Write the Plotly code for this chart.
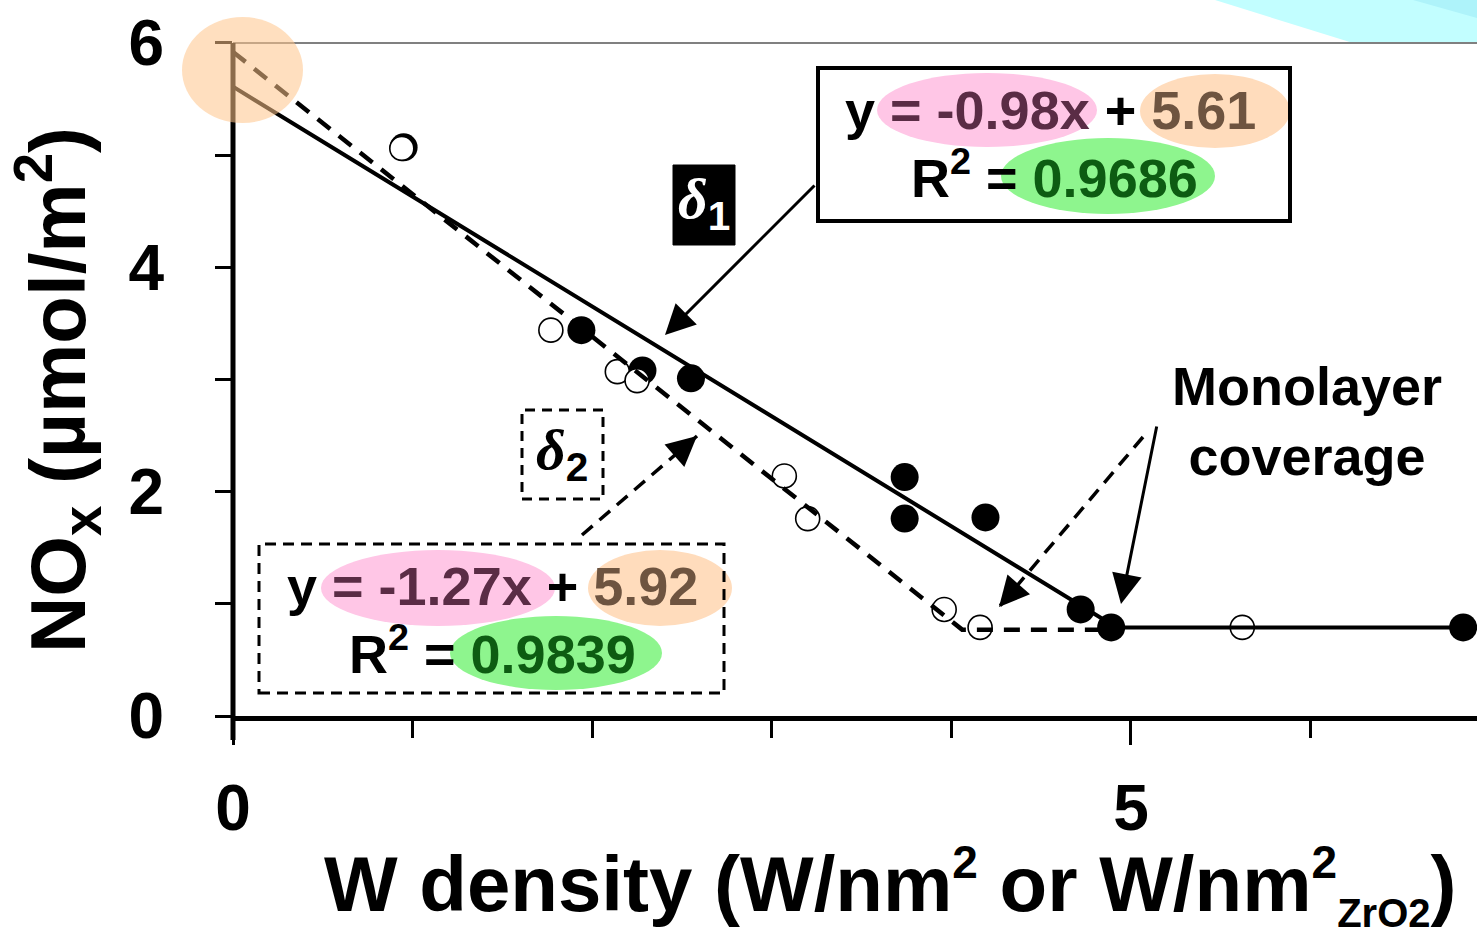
import plotly.graph_objects as go

# ---------------- data ----------------
filled_x = [0.95, 1.94, 2.28, 2.55, 3.74, 3.74, 4.19, 4.72, 4.89, 6.85]
filled_y = [5.07, 3.44, 3.08, 3.01, 2.13, 1.76, 1.77, 0.95, 0.79, 0.79]

open_x = [0.94, 1.77, 2.14, 2.25, 3.07, 3.20, 3.96, 4.16, 5.62]
open_y = [5.06, 3.44, 3.07, 2.99, 2.14, 1.76, 0.95, 0.79, 0.79]

solid_fit_x = [0.0, 4.92, 6.93]
solid_fit_y = [5.61, 0.79, 0.79]
dashed_fit_x = [0.0, 4.06, 4.92]
dashed_fit_y = [5.92, 0.77, 0.77]

y_tickvals = [0, 1, 2, 3, 4, 5, 6]
y_ticktext = ["0", "", "2", "", "4", "", "6"]
x_major = [0, 5]
x_minor = [1, 2, 3, 4, 6]

eq1 = ("-0.98x", "5.61", "0.9686")
eq2 = ("-1.27x", "5.92", "0.9839")

# ---------------- layout geometry ----------------
W, H = 1477, 936
L, R, T, B = 233, 0, 0, 220
PW, PH = W - L - R, H - T - B
X_MAX = 6.927
Y_MAX = 6.383


def px(xp):
    return (xp - L) / PW


def py(yp):
    return (H - B - yp) / PH


FONT = "Liberation Sans, Arial, sans-serif"
SERIF = "Liberation Serif, Times New Roman, serif"
PURPLE = "#5a2c45"
BROWN = "#6e5440"
DGREEN = "#0d5c12"

fig = go.Figure()

fig.add_trace(go.Scatter(x=filled_x, y=filled_y, mode="markers",
                         marker=dict(size=28, color="black"),
                         showlegend=False, cliponaxis=False))
fig.add_trace(go.Scatter(x=open_x, y=open_y, mode="markers",
                         marker=dict(size=24, color="white",
                                     line=dict(color="black", width=1.6)),
                         showlegend=False, cliponaxis=False))
fig.add_trace(go.Scatter(x=solid_fit_x, y=solid_fit_y, mode="lines",
                         line=dict(color="black", width=4),
                         showlegend=False))
fig.add_trace(go.Scatter(x=dashed_fit_x, y=dashed_fit_y, mode="lines",
                         line=dict(color="black", width=4.5, dash="16px,11px"),
                         showlegend=False))

shapes = []
# light cyan decoration top-right
shapes.append(dict(type="path", xref="paper", yref="paper", layer="below",
                   path=f"M{px(1215)},{py(0)} L{px(1353)},{py(43)} L{px(1477)},{py(43)} L{px(1477)},{py(0)} Z",
                   fillcolor="#c2feff", line=dict(width=0)))
shapes.append(dict(type="path", xref="paper", yref="paper", layer="below",
                   path=f"M{px(1413)},{py(0)} L{px(1477)},{py(18)} L{px(1477)},{py(0)} Z",
                   fillcolor="#aef3fa", line=dict(width=0)))
# gray top line at y = 6
shapes.append(dict(type="line", xref="paper", yref="paper",
                   x0=0, x1=1, y0=6 / Y_MAX, y1=6 / Y_MAX,
                   line=dict(color="#808080", width=2)))
# y axis line (0 .. 6)
shapes.append(dict(type="line", xref="paper", yref="paper",
                   x0=px(233), x1=px(233), y0=py(740), y1=6 / Y_MAX,
                   line=dict(color="black", width=5)))


def ell(cx, cy, rx, ry, color):
    return dict(type="circle", xref="paper", yref="paper",
                x0=px(cx - rx), x1=px(cx + rx), y0=py(cy + ry), y1=py(cy - ry),
                fillcolor=color, line=dict(width=0), layer="above")


PINK = "#ffc6e6"
ORANGE = "#ffdcbc"
GREEN = "#8ef58e"
shapes += [
    ell(987, 110, 110, 37, PINK),
    ell(1215, 111, 75, 37, ORANGE),
    ell(1108, 176, 107, 38, GREEN),
    ell(438, 588, 117, 38, PINK),
    ell(660, 588, 72, 38, ORANGE),
    ell(556, 653, 106, 37, GREEN),
]
# equation boxes
shapes.append(dict(type="rect", xref="paper", yref="paper",
                   x0=px(818), x1=px(1290), y0=py(221), y1=py(68),
                   line=dict(color="black", width=4)))
shapes.append(dict(type="rect", xref="paper", yref="paper",
                   x0=px(259), x1=px(724), y0=py(693), y1=py(544),
                   line=dict(color="black", width=3, dash="11px,7px")))
# delta boxes
shapes.append(dict(type="rect", xref="paper", yref="paper",
                   x0=px(673), x1=px(735), y0=py(245), y1=py(165),
                   fillcolor="black", line=dict(color="black", width=1)))
shapes.append(dict(type="rect", xref="paper", yref="paper",
                   x0=px(522), x1=px(603), y0=py(499), y1=py(410),
                   line=dict(color="black", width=3, dash="10px,7px")))
# dashed arrow shafts
shapes.append(dict(type="line", xref="paper", yref="paper",
                   x0=px(582), y0=py(535), x1=px(697), y1=py(436),
                   line=dict(color="black", width=3.5, dash="14px,9px")))
shapes.append(dict(type="line", xref="paper", yref="paper",
                   x0=px(1143), y0=py(437), x1=px(999), y1=py(607),
                   line=dict(color="black", width=3.5, dash="14px,9px")))
# orange highlight at intercept (on top of everything)
shapes.append(dict(type="circle", xref="paper", yref="paper",
                   x0=px(182), x1=px(303), y0=py(123), y1=py(17),
                   fillcolor="#ffc48a", opacity=0.55, line=dict(width=0),
                   layer="above"))

ann = []
EQF = dict(family=FONT, size=54, color="black", weight="bold")
ann.append(dict(xref="paper", yref="paper", x=px(1050), y=py(110),
                xanchor="center", yanchor="middle", showarrow=False, font=EQF,
                text=f'y <span style="color:{PURPLE}">= {eq1[0]}</span> + <span style="color:{BROWN}">{eq1[1]}</span>'))
ann.append(dict(xref="paper", yref="paper", x=px(1054), y=py(174),
                xanchor="center", yanchor="middle", showarrow=False, font=EQF,
                text=f'R<sup>2</sup> = <span style="color:{DGREEN}">{eq1[2]}</span>'))
ann.append(dict(xref="paper", yref="paper", x=px(492), y=py(586),
                xanchor="center", yanchor="middle", showarrow=False, font=EQF,
                text=f'y <span style="color:{PURPLE}">= {eq2[0]}</span> + <span style="color:{BROWN}">{eq2[1]}</span>'))
ann.append(dict(xref="paper", yref="paper", x=px(492), y=py(650),
                xanchor="center", yanchor="middle", showarrow=False, font=EQF,
                text=f'R<sup>2</sup> = <span style="color:{DGREEN}">{eq2[2]}</span>'))
# delta labels
ann.append(dict(xref="paper", yref="paper", x=px(704), y=py(203),
                xanchor="center", yanchor="middle", showarrow=False,
                font=dict(family=SERIF, size=58, color="white"),
                text='<b><i>δ</i></b><sub><span style="font-family:Liberation Sans;font-weight:bold">1</span></sub>'))
ann.append(dict(xref="paper", yref="paper", x=px(562), y=py(453),
                xanchor="center", yanchor="middle", showarrow=False,
                font=dict(family=SERIF, size=58, color="black"),
                text='<b><i>δ</i></b><sub><span style="font-family:Liberation Sans;font-weight:bold">2</span></sub>'))
# monolayer text
ann.append(dict(xref="paper", yref="paper", x=px(1307), y=py(421),
                xanchor="center", yanchor="middle", showarrow=False,
                font=dict(family=FONT, size=54, color="black", weight="bold"),
                text="Monolayer<br>coverage"))


def arrow(tip, start):
    return dict(xref="paper", yref="paper", x=px(tip[0]), y=py(tip[1]),
                ax=start[0] - tip[0], ay=start[1] - tip[1], axref="pixel", ayref="pixel",
                text="", showarrow=True, arrowhead=2, arrowsize=2,
                arrowwidth=3, arrowcolor="black", standoff=0)


ann.append(arrow((665, 335), (816, 184)))
ann.append(arrow((1121, 604), (1157, 425)))
# heads of dashed arrows
ann.append(arrow((697, 436), (689, 443)))
ann.append(arrow((999, 607), (1006, 599)))

# axis titles
TF = dict(family=FONT, size=78, color="black", weight="bold")
ann.append(dict(xref="paper", yref="paper", x=px(890), y=py(886),
                xanchor="center", yanchor="middle", showarrow=False, font=TF,
                text='W density (W/nm<sup><span style="font-size:46px">2</span></sup> or W/nm<sup><span style="font-size:46px">2</span></sup><sub><span style="font-size:40px">ZrO2</span></sub>)'))
ann.append(dict(xref="paper", yref="paper", x=px(58), y=py(390),
                xanchor="center", yanchor="middle", showarrow=False, font=TF,
                textangle=-90,
                text="NO<sub>x</sub> (µmol/m<sup>2</sup>)"))

fig.update_layout(
    width=W, height=H,
    margin=dict(l=L, r=R, t=T, b=B, pad=0),
    paper_bgcolor="white", plot_bgcolor="rgba(0,0,0,0)",
    showlegend=False,
    shapes=shapes, annotations=ann,
    xaxis=dict(range=[0, X_MAX], showgrid=False, zeroline=False,
               showline=True, linecolor="black", linewidth=5,
               tickmode="array", tickvals=x_major, ticktext=["0", "5"],
               ticks="outside", ticklen=24, tickwidth=3, tickcolor="black",
               ticklabelstandoff=8,
               tickfont=dict(family=FONT, size=64, color="black", weight="bold"),
               minor=dict(tickmode="array", tickvals=x_minor, ticks="outside",
                          ticklen=17, tickwidth=3, tickcolor="black")),
    yaxis=dict(range=[0, Y_MAX], showgrid=False, zeroline=False, showline=False,
               tickmode="array", tickvals=y_tickvals, ticktext=y_ticktext,
               ticks="outside", ticklen=17, tickwidth=3, tickcolor="black",
               ticklabelstandoff=38,
               tickfont=dict(family=FONT, size=64, color="black", weight="bold")),
)

fig.write_html("out.html")
